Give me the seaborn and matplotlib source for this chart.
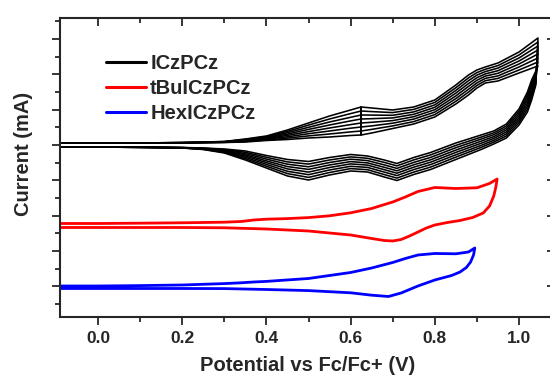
import matplotlib
matplotlib.use("Agg")
import numpy as np
import pandas as pd
import seaborn as sns
import matplotlib.pyplot as plt
from matplotlib.ticker import MultipleLocator

# ---- data (potential in V vs Fc/Fc+, current as offset curves, arbitrary units) ----
labels = ["ICzPCz", "tBuICzPCz", "HexICzPCz"]
colors = ["#000000", "#ff0000", "#0000ff"]
x_ticks = [0.0, 0.2, 0.4, 0.6, 0.8, 1.0]

# ICzPCz: 8 repeated cycles, forward (oxidation) and reverse scans
black_fwd_v = [-0.1, 0.0, 0.1, 0.2, 0.3, 0.35, 0.4, 0.45, 0.5, 0.55, 0.6, 0.625,
               0.65, 0.7, 0.75, 0.8, 0.85, 0.88, 0.9, 0.92, 0.95, 1.0, 1.045]
black_fwd_i = [
    [2, 2, 2, 2.0, 2.5, 3.0, 4.5, 5.5, 7.0, 8, 9.5, 10, 12.0, 16.5, 21.0, 28.0, 41.0, 50.0, 57.0, 62.0, 64.0, 72, 79],
    [2, 2, 2, 2.1, 2.6, 3.4, 5.1, 6.9, 9.1, 11, 13.1, 14, 15.6, 19.1, 23.4, 30.4, 43.7, 52.9, 59.6, 64.3, 66.6, 75, 83],
    [2, 2, 2, 2.1, 2.8, 3.9, 5.8, 8.2, 11.3, 14, 16.8, 18, 19.1, 21.8, 25.9, 32.9, 46.4, 55.7, 62.1, 66.6, 69.1, 78, 87],
    [2, 2, 2, 2.2, 2.9, 4.3, 6.4, 9.6, 13.4, 17, 20.4, 22, 22.7, 24.4, 28.3, 35.3, 49.1, 58.6, 64.7, 68.9, 71.7, 81, 91],
    [2, 2, 2, 2.3, 3.1, 4.7, 7.1, 10.9, 15.6, 20, 24.1, 26, 26.3, 27.1, 30.7, 37.7, 51.9, 61.4, 67.3, 71.1, 74.3, 84, 95],
    [2, 2, 2, 2.4, 3.2, 5.1, 7.7, 12.3, 17.7, 23, 27.7, 30, 29.9, 29.7, 33.1, 40.1, 54.6, 64.3, 69.9, 73.4, 76.9, 87, 99],
    [2, 2, 2, 2.4, 3.4, 5.6, 8.4, 13.6, 19.9, 26, 31.4, 34, 33.4, 32.4, 35.6, 42.6, 57.3, 67.1, 72.4, 75.7, 79.4, 90, 103],
    [2, 2, 2, 2.5, 3.5, 6.0, 9.0, 15.0, 22.0, 29, 35.0, 38, 37.0, 35.0, 38.0, 45.0, 60.0, 70.0, 75.0, 78.0, 82.0, 93, 107],
]
black_rev_v = [1.045, 1.04, 1.03, 1.02, 1.0, 0.97, 0.94, 0.91, 0.85, 0.79, 0.75, 0.71, 0.68,
               0.64, 0.6, 0.55, 0.5, 0.45, 0.4, 0.35, 0.3, 0.25, 0.2, 0.1, 0.0, -0.1]
black_rev_i = [
    [79, 74, 65.0, 53.0, 36.0, 21, 14.0, 10.0, 2.0, -7.5, -12.5, -18.5, -15.0, -11.0, -9.5, -12.5, -16.5, -14.5, -10.5, -6.0, -4.0, -3.0, -2.5, -2.0, -2, -2],
    [83, 72, 62.1, 50.1, 33.7, 19, 12.1, 7.9, -0.4, -9.9, -14.9, -20.9, -17.4, -13.3, -11.9, -15.0, -19.1, -16.9, -12.3, -7.3, -4.6, -3.2, -2.6, -2.1, -2, -2],
    [87, 70, 59.3, 47.3, 31.4, 17, 10.3, 5.9, -2.7, -12.4, -17.4, -23.4, -19.9, -15.6, -14.2, -17.5, -21.8, -19.2, -14.1, -8.6, -5.1, -3.4, -2.6, -2.1, -2, -2],
    [91, 68, 56.4, 44.4, 29.1, 15, 8.4, 3.8, -5.1, -14.8, -19.8, -25.8, -22.3, -17.9, -16.6, -20.0, -24.4, -21.6, -15.9, -9.9, -5.7, -3.6, -2.7, -2.2, -2, -2],
    [95, 66, 53.6, 41.6, 26.9, 13, 6.6, 1.7, -7.4, -17.2, -22.2, -28.2, -24.7, -20.1, -18.9, -22.5, -27.1, -23.9, -17.6, -11.1, -6.3, -3.9, -2.8, -2.3, -2, -2],
    [99, 64, 50.7, 38.7, 24.6, 11, 4.7, -0.4, -9.8, -19.6, -24.6, -30.6, -27.1, -22.4, -21.3, -25.0, -29.7, -26.3, -19.4, -12.4, -6.9, -4.1, -2.9, -2.4, -2, -2],
    [103, 62, 47.9, 35.9, 22.3, 9, 2.9, -2.4, -12.1, -22.1, -27.1, -33.1, -29.6, -24.7, -23.6, -27.5, -32.4, -28.6, -21.2, -13.7, -7.4, -4.3, -2.9, -2.4, -2, -2],
    [107, 60, 45.0, 33.0, 20.0, 7, 1.0, -4.5, -14.5, -24.5, -29.5, -35.5, -32.0, -27.0, -26.0, -30.0, -35.0, -31.0, -23.0, -15.0, -8.0, -4.5, -3.0, -2.5, -2, -2],
]

# tBuICzPCz
red_fwd_v = [-0.1, 0.0, 0.1, 0.2, 0.3, 0.34, 0.37, 0.4, 0.45, 0.5, 0.55, 0.6, 0.65, 0.7, 0.73,
             0.76, 0.8, 0.85, 0.9, 0.93, 0.948]
red_fwd_i = [-78.5, -78.5, -78.2, -77.8, -77.2, -76.5, -75.0, -74.2, -73.6, -72.6, -70.8, -67.8,
             -63.5, -57.0, -52.0, -46.5, -42.5, -43.5, -42.8, -38.5, -34.0]
red_rev_v = [0.948, 0.945, 0.94, 0.93, 0.915, 0.89, 0.86, 0.83, 0.8, 0.78, 0.76, 0.74, 0.72,
             0.70, 0.68, 0.65, 0.6, 0.5, 0.4, 0.3, 0.2, 0.0, -0.1]
red_rev_i = [-34.0, -42.0, -51.0, -61.0, -68.0, -72.5, -75.5, -77.5, -80.0, -83.0, -87.0, -91.0,
             -94.5, -96.0, -95.5, -93.5, -90.0, -86.0, -84.0, -82.8, -82.5, -82.5, -82.5]

# HexICzPCz
blue_fwd_v = [-0.1, 0.0, 0.1, 0.2, 0.3, 0.34, 0.37, 0.4, 0.5, 0.6, 0.65, 0.7, 0.73, 0.76, 0.8,
              0.85, 0.88, 0.895]
blue_fwd_i = [-141.0, -141.0, -140.6, -140.0, -138.6, -137.8, -137.0, -136.4, -133.5, -127.5,
              -123.0, -117.5, -113.5, -110.0, -108.5, -108.8, -107.0, -103.0]
blue_rev_v = [0.895, 0.892, 0.885, 0.875, 0.86, 0.84, 0.8, 0.76, 0.72, 0.69, 0.65, 0.6, 0.5,
              0.4, 0.3, 0.2, -0.1]
blue_rev_i = [-103.0, -110.0, -117.0, -122.5, -127.0, -130.5, -135.0, -141.0, -148.0, -151.5,
              -150.2, -147.8, -145.6, -144.5, -143.6, -143.5, -143.5]

# ---- style ----
sns.set_style("ticks")
plt.rcParams['font.family'] = ['Liberation Sans', 'DejaVu Sans']
plt.rcParams['font.weight'] = 'bold'
plt.rcParams['axes.labelweight'] = 'bold'

fig = plt.figure(figsize=(5.5, 3.78), dpi=100)
ax = fig.add_axes([0.1091, 0.1614, 0.9, 0.791])

# ICzPCz cycles
for k in range(len(black_fwd_i)):
    v = black_fwd_v + black_rev_v[1:]
    i = black_fwd_i[k] + black_rev_i[k][1:]
    sns.lineplot(x=v, y=i, sort=False, estimator=None, color=colors[0], lw=1.15,
                 label=labels[0] if k == 0 else "_nolegend_", ax=ax)
# marker line where the cycles start
j = black_fwd_v.index(0.625)
sns.lineplot(x=[black_fwd_v[j], black_fwd_v[j]], y=[black_fwd_i[0][j], black_fwd_i[-1][j]],
             sort=False, estimator=None, color=colors[0], lw=1.4, label="_nolegend_", ax=ax)

sns.lineplot(x=red_fwd_v + red_rev_v[1:], y=red_fwd_i + red_rev_i[1:], sort=False,
             estimator=None, color=colors[1], lw=2.0, label=labels[1], ax=ax)
sns.lineplot(x=blue_fwd_v + blue_rev_v[1:], y=blue_fwd_i + blue_rev_i[1:], sort=False,
             estimator=None, color=colors[2], lw=2.0, label=labels[2], ax=ax)

ax.set_xlim(-0.0903, 1.0855)
ax.set_ylim(-172, 127)
ax.set_xticks(x_ticks)
ax.set_xticklabels(["%.1f" % t for t in x_ticks])
ax.xaxis.set_minor_locator(MultipleLocator(0.1))
ax.yaxis.set_major_locator(MultipleLocator(35.3))
ax.yaxis.set_minor_locator(MultipleLocator(17.65))
ax.set_yticklabels([])

ax.tick_params(axis='x', which='both', bottom=True, top=True, direction='out', labelsize=12.5, width=1.3, pad=4)
ax.tick_params(axis='y', which='both', left=True, right=True, direction='out', width=1.3)
ax.tick_params(which='major', length=6)
ax.tick_params(which='minor', length=3.5)
# top and right ticks point inward
for t in ax.xaxis.get_major_ticks() + ax.xaxis.get_minor_ticks():
    t.tick2line.set_marker(3)
for t in ax.yaxis.get_major_ticks() + ax.yaxis.get_minor_ticks():
    t.tick2line.set_marker(0)
for s in ax.spines.values():
    s.set_linewidth(1.5)

ax.set_xlabel("Potential vs Fc/Fc+ (V)", fontsize=14.5, fontweight='bold', labelpad=7)
ax.set_ylabel("Current (mA)", fontsize=14.5, fontweight='bold')
ax.yaxis.set_label_coords(-0.055, 0.545)

leg = ax.legend(loc='upper left', bbox_to_anchor=(0.056, 0.94), frameon=False,
                handlelength=2.0, handletextpad=0.2, labelspacing=0.3,
                prop={'weight': 'bold', 'size': 14.5})
for h in leg.get_lines():
    h.set_linewidth(2.2)

fig.savefig("out.png", dpi=100)
